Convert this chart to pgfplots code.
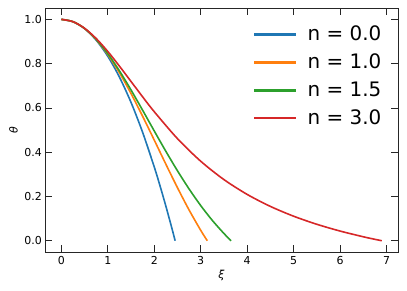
\documentclass[border=0pt]{standalone}
\usepackage{fontspec}
\setmainfont{DejaVu Sans}
\usepackage{pgfplots}
\pgfplotsset{compat=1.18}
\definecolor{cA}{HTML}{1F77B4}
\definecolor{cB}{HTML}{FF7F0E}
\definecolor{cC}{HTML}{2CA02C}
\definecolor{cD}{HTML}{D62728}
\begin{document}
\begin{tikzpicture}
\begin{axis}[
  at={(0,0)}, anchor=south west,
  scale only axis, width=352.5bp, height=243.5bp,
  xmin=-0.34484, xmax=7.24169, ymin=-0.05, ymax=1.05,
  xtick={0,1,2,3,4,5,6,7},
  ytick={0,0.2,0.4,0.6,0.8,1.0},
  tick align=inside,
  major tick length=7bp,
  tick style={black!85, line width=0.6bp},
  axis line style={black!85, line width=0.6bp},
  ticklabel style={font=\fontsize{11}{13}\selectfont},
  x tick label style={yshift=-1bp},
  y tick label style={/pgf/number format/.cd, fixed, fixed zerofill, precision=1, /tikz/.cd},
  /pgf/number format/assume math mode=true,
  xlabel={\textit{ξ}}, ylabel={\textit{θ}},
  label style={font=\fontsize{11}{13}\selectfont},
  xlabel style={at={(axis description cs:0.5,-0.096)}, anchor=center},
  ylabel style={at={(axis description cs:-0.0906,0.5)}, anchor=center},
  legend style={draw=none, fill=none, at={(0.968,0.944)}, anchor=north east,
    font=\fontsize{20}{24}\selectfont, row sep=7.7bp, column sep=10bp,
    nodes={inner sep=2bp, text depth=0.15em}},
  legend cell align=left,
  legend image code/.code={\fill[#1] (0bp,-0.6bp) rectangle (40bp,0.6bp);},
  every axis plot/.append style={line width=1.6bp, smooth},
]
\addplot[cA, no marks] table {
0 1
0.25 0.989583
0.5 0.958333
0.75 0.90625
1 0.833333
1.25 0.739583
1.5 0.625
1.75 0.489583
2 0.333333
2.125 0.247396
2.25 0.15625
2.375 0.059896
2.44949 0
};
\addlegendentry{n = 0.0}
\addplot[cB, no marks] table {
0 1
0.25 0.989616
0.5 0.958851
0.75 0.908852
1 0.841471
1.25 0.759188
1.5 0.664997
1.75 0.562278
2 0.454649
2.25 0.345810
2.5 0.239389
2.75 0.138786
3 0.047040
3.14159 0
};
\addlegendentry{n = 1.0}
\addplot[cC, no marks] table {
0 1
0.25 0.989632
0.5 0.959104
0.75 0.910085
1 0.845170
1.25 0.767632
1.5 0.681124
1.75 0.589380
2 0.495937
2.25 0.403921
2.5 0.315896
2.75 0.233787
3 0.158865
3.25 0.091782
3.5 0.032625
3.65375 0
};
\addlegendentry{n = 1.5}
\addplot[cD, no marks] table {
0 1
0.25 0.989680
0.5 0.959839
0.75 0.913541
1 0.855057
1.25 0.788982
1.5 0.719502
1.75 0.649988
2 0.582845
2.5 0.461096
3 0.359180
3.5 0.276210
4 0.209228
4.5 0.155018
5 0.110771
5.5 0.074240
6 0.043694
6.5 0.017824
6.75 0.006342
6.89685 0
};
\addlegendentry{n = 3.0}
\end{axis}
\pgfresetboundingbox
\useasboundingbox (-45.3bp,-39.2bp) rectangle (361.7bp,251.8bp);
\end{tikzpicture}
\end{document}
